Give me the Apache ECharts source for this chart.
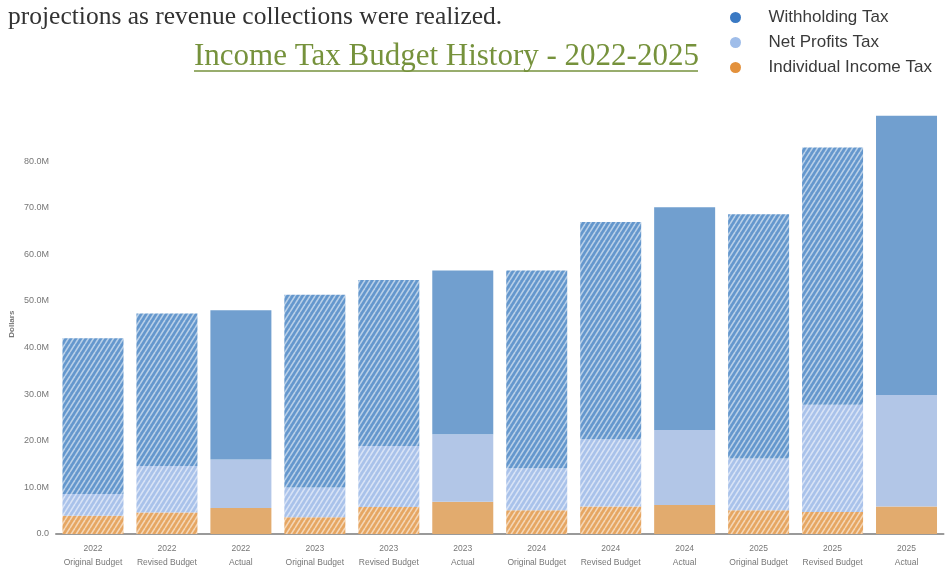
<!DOCTYPE html>
<html><head><meta charset="utf-8">
<script src="https://cdn.jsdelivr.net/npm/echarts@6/dist/echarts.min.js"></script>
<style>html,body{margin:0;padding:0;background:#fff}#c{width:947px;height:571px}</style>
</head><body><div id="c"></div>
<script>
// ---- data (millions of dollars) ----
const years = ['2022','2022','2022','2023','2023','2023','2024','2024','2024','2025','2025','2025'];
const kinds = ['Original Budget','Revised Budget','Actual','Original Budget','Revised Budget','Actual','Original Budget','Revised Budget','Actual','Original Budget','Revised Budget','Actual'];
const individualIncome = [3.9, 4.6, 5.6, 3.6, 5.8, 6.9, 5.1, 5.9, 6.2, 5.1, 4.7, 5.9];
const netProfits       = [4.7, 10.0, 10.4, 6.4, 13.1, 14.5, 9.0, 14.4, 16.1, 11.1, 23.0, 23.9];
const withholding      = [33.4, 32.7, 32.0, 41.3, 35.6, 35.1, 42.4, 46.6, 47.8, 52.4, 55.2, 59.9];
const yTicks = [0, 10, 20, 30, 40, 50, 60, 70, 80];
const introText = 'projections as revenue collections were realized.';
const chartTitle = 'Income Tax Budget History - 2022-2025';

const categories = years.map((y, i) => y + '\n' + kinds[i]);

function hatch(color) {
  const c = document.createElement('canvas');
  const w = 5, h = 8;
  c.width = w; c.height = h;
  const x = c.getContext('2d');
  x.fillStyle = color; x.fillRect(0, 0, w, h);
  x.strokeStyle = 'rgba(255,255,255,0.55)';
  x.lineWidth = 1.6;
  for (let k = -1; k <= 1; k++) {
    x.beginPath(); x.moveTo(k * w, h); x.lineTo(k * w + w, 0); x.stroke();
  }
  return { image: c, repeat: 'repeat' };
}

const seriesDefs = [
  { name: 'Individual Income Tax', values: individualIncome, solid: '#e2ab6e', hatchBase: '#e6a662', dot: '#e3913c' },
  { name: 'Net Profits Tax', values: netProfits, solid: '#b2c6e7', hatchBase: '#a9c2ea', dot: '#9fbde9' },
  { name: 'Withholding Tax', values: withholding, solid: '#719fcf', hatchBase: '#6497cd', dot: '#3a79c3' }
];

const series = seriesDefs.map(s => {
  const pat = hatch(s.hatchBase);
  return {
    name: s.name, type: 'bar', stack: 'total', barWidth: 61,
    itemStyle: { color: s.dot },
    emphasis: { disabled: true },
    data: s.values.map((v, i) => ({
      value: v,
      itemStyle: { color: kinds[i] === 'Actual' ? s.solid : pat }
    }))
  };
});

const chart = echarts.init(document.getElementById('c'), null, { renderer: 'canvas' });
chart.setOption({
  animation: false,
  backgroundColor: '#ffffff',
  title: [
    { text: introText, left: 3, top: -1, textStyle: { fontFamily: 'Liberation Serif', fontWeight: 'normal', fontSize: 25.5, color: '#333333' } },
    { text: chartTitle, left: 189, top: 36, textStyle: { fontFamily: 'Liberation Serif', fontWeight: 'normal', fontSize: 31, color: '#76923c' } }
  ],
  graphic: [
    { type: 'line', shape: { x1: 194, y1: 71, x2: 698, y2: 71 }, style: { stroke: '#76923c', lineWidth: 1.5 } }
  ],
  legend: {
    orient: 'vertical', left: 725, top: 4, itemWidth: 56, itemHeight: 11, itemGap: 8,
    icon: 'circle', selectedMode: false,
    textStyle: { fontFamily: 'Liberation Sans', fontSize: 17, color: '#3a3a3a' },
    data: [
      { name: 'Withholding Tax', itemStyle: { color: '#3a79c3' } },
      { name: 'Net Profits Tax', itemStyle: { color: '#9fbde9' } },
      { name: 'Individual Income Tax', itemStyle: { color: '#e3913c' } }
    ]
  },
  grid: { left: 56, right: 3.5, top: 114.4, bottom: 37, containLabel: false, outerBoundsMode: 'none' },
  xAxis: {
    type: 'category', data: categories,
    axisLine: { lineStyle: { color: '#9a9a9a', width: 2 } },
    axisTick: { show: false },
    axisLabel: { interval: 0, fontSize: 8.5, lineHeight: 14, color: '#777777', fontFamily: 'Liberation Sans', margin: 8 }
  },
  yAxis: {
    type: 'value', min: 0, max: 90, interval: 10,
    name: 'Dollars', nameLocation: 'middle', nameGap: 40, nameRotate: 90, nameMoveOverlap: false,
    nameTextStyle: { fontSize: 8, fontWeight: 'bold', color: '#777777', fontFamily: 'Liberation Sans' },
    splitLine: { show: false }, axisLine: { show: false }, axisTick: { show: false },
    axisLabel: {
      fontSize: 9, color: '#777777', fontFamily: 'Liberation Sans', margin: 7,
      formatter: v => (yTicks.indexOf(v) < 0 ? '' : (v === 0 ? '0.0' : v.toFixed(1) + 'M'))
    }
  },
  series: series
});
</script>
</body></html>
